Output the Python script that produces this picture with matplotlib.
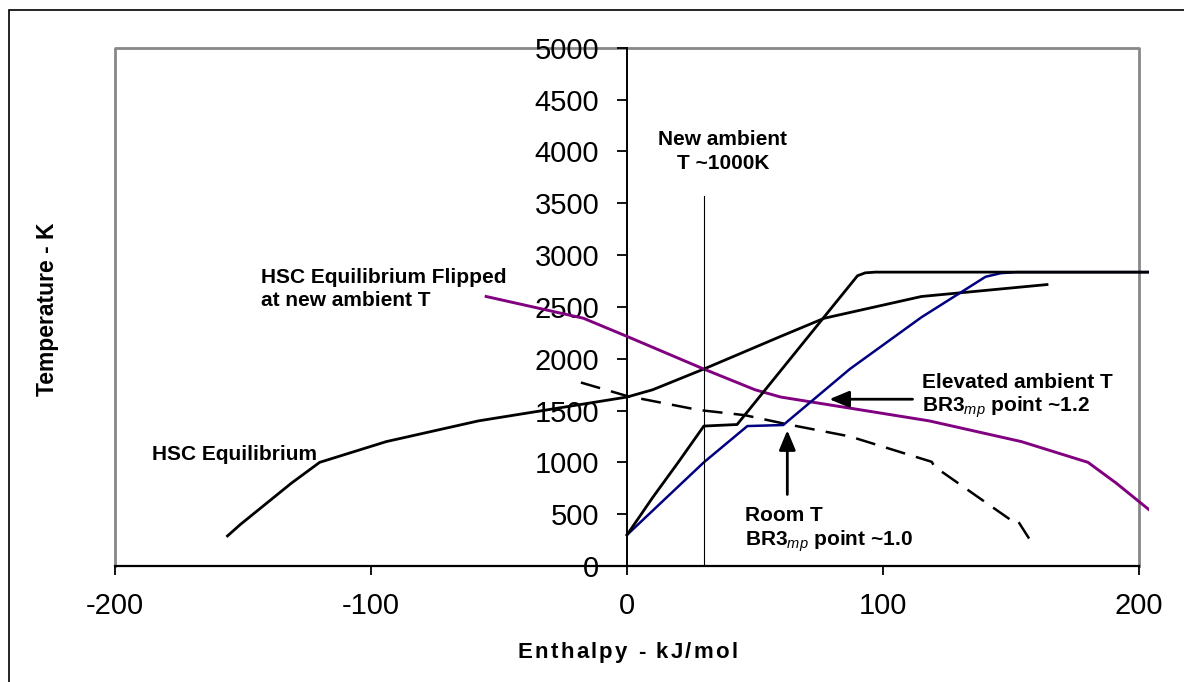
import matplotlib
matplotlib.use("Agg")
import matplotlib.pyplot as plt
from matplotlib.patches import Rectangle
from matplotlib.font_manager import FontProperties, findfont, get_font

plt.rcParams['font.family'] = ['Liberation Sans', 'DejaVu Sans']
plt.rcParams['axes.unicode_minus'] = False
plt.rcParams['mathtext.fontset'] = 'custom'
plt.rcParams['mathtext.it'] = 'Liberation Sans:italic'
plt.rcParams['mathtext.rm'] = 'Liberation Sans:bold'

# HSC equilibrium curve (enthalpy kJ/mol, temperature K)
hsc_h = [-156, -151, -131, -120, -94, -58, 0, 10, 30, 60, 77, 115, 164]
hsc_t = [290, 400, 800, 1000, 1200, 1400, 1630, 1700, 1900, 2215, 2390, 2600, 2715]

# same curve flipped about the new ambient temperature
flip_h = [-55, -17, 0, 30, 50, 60, 118, 154, 180, 191, 211, 216]
flip_t = [2600, 2390, 2215, 1900, 1700, 1630, 1400, 1200, 1000, 800, 400, 290]

# BR3 heating path, room temperature start (blue)
room_h = [0, 30, 47, 61, 87, 115, 140, 146, 152, 210]
room_t = [300, 1000, 1350, 1360, 1900, 2400, 2790, 2825, 2835, 2835]

# BR3 heating path, elevated ambient (black)
hot_h = [0, 10, 20, 30, 43, 90, 93, 97, 210]
hot_t = [300, 660, 1000, 1350, 1365, 2800, 2828, 2835, 2835]

# dashed reference curve
dash_h = [-18, 0, 28, 46, 62, 87, 119, 120, 151.7, 152.8, 157]
dash_t = [1770, 1640, 1505, 1455, 1370, 1250, 1005, 960, 412, 428, 265]

ambient_h = 30
ambient_top = 3570

W, H = 1184, 682
fig = plt.figure(figsize=(W / 100, H / 100), dpi=100)


def fx(px):
    return px / W


def fy(py):
    return 1 - py / H


ax = fig.add_axes([fx(114.8), fy(566), 404 * 2.561 / W, 518.3 / H])
ax.set_xlim(-200, 204)
ax.set_ylim(0, 5000)

# plot area frame
ax.plot([-200, -200, 200, 200], [0, 5000, 5000, 0], color='#888888', lw=2,
        clip_on=False, zorder=1)

ax.plot(hsc_h, hsc_t, color='black', lw=2, zorder=3)
ax.plot(flip_h, flip_t, color='#800080', lw=2.1, zorder=3)
ax.plot(dash_h, dash_t, color='black', lw=1.8, linestyle=(0, (8, 4.5)), zorder=3)
ax.plot(room_h, room_t, color='#000080', lw=1.8, zorder=3)
ax.plot(hot_h, hot_t, color='black', lw=2, zorder=4)
ax.plot([ambient_h, ambient_h], [0, ambient_top], color='black', lw=0.8, zorder=3)

arrow = dict(arrowstyle='-|>,head_length=0.6,head_width=0.25', color='black',
             lw=2, mutation_scale=20, shrinkA=0, shrinkB=0)
ax.annotate('', xy=(62.6, 1310), xytext=(62.6, 690), arrowprops=arrow)
ax.annotate('', xy=(79, 1609), xytext=(111.5, 1609), arrowprops=arrow)

for side in ['top', 'right']:
    ax.spines[side].set_visible(False)
ax.spines['left'].set_position(('data', 0))
ax.spines['left'].set_linewidth(1.4)
ax.spines['bottom'].set_bounds(-200, 200)
ax.spines['bottom'].set_linewidth(1.6)
ax.set_xticks([-200, -100, 0, 100, 200])
ax.set_yticks(range(0, 5001, 500))
ax.tick_params(axis='y', direction='out', length=7, width=1.3, pad=13, labelsize=21)
ax.tick_params(axis='x', direction='out', length=6.5, width=1.3, pad=12, labelsize=21)

lab = dict(fontsize=15, fontweight='bold', va='baseline')
fig.text(fx(261.4), fy(283.3), 'HSC Equilibrium Flipped', ha='left', **lab)
fig.text(fx(261.4), fy(305.5), 'at new ambient T', ha='left', **lab)
fig.text(fx(152.3), fy(460), 'HSC Equilibrium', ha='left', **lab)
fig.text(fx(722.5), fy(145), 'New ambient', ha='center', **lab)
fig.text(fx(723), fy(169.3), 'T ~1000K', ha='center', **lab)
fig.text(fx(922), fy(388.3), 'Elevated ambient T', ha='left', **lab)
fig.text(fx(922), fy(411.7), 'BR3$_{mp}$ point ~1.2', ha='left', **lab)
fig.text(fx(745), fy(520.7), 'Room T', ha='left', **lab)
fig.text(fx(745), fy(546), 'BR3$_{mp}$ point ~1.0', ha='left', **lab)

fig.text(fx(47.5), fy(309), 'Temperature - K', rotation=90, ha='center',
         va='center', fontsize=16.5, fontweight='bold')

# x axis title, drawn letter by letter to get the wide tracking
title = 'Enthalpy - kJ/mol'
fp = FontProperties(family='Liberation Sans', weight='bold', size=16)
font = get_font(findfont(fp))
font.set_size(16, 100)
adv = [font.load_char(ord(c)).linearHoriAdvance / 65536 for c in title]
gap = 2.2
x = 627.5 - (sum(adv) + gap * (len(title) - 1)) / 2
for c, a in zip(title, adv):
    fig.text(fx(x), fy(658), c, fontproperties=fp, ha='left', va='baseline')
    x += a + gap

# outer chart border
fig.patches.append(Rectangle((fx(8.5), -0.05), 1.1, fy(10) + 0.05,
                             transform=fig.transFigure, fill=False,
                             edgecolor='black', lw=1.2))

fig.savefig('out.png', dpi=100)
